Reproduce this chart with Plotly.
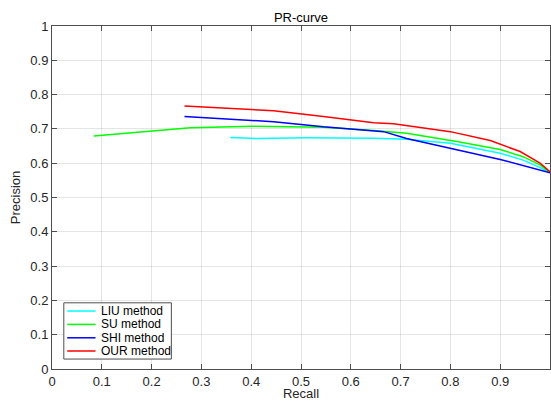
import plotly.graph_objects as go

_FONT = "Liberation Sans, Arial, sans-serif"
_AXIS_COLOR = "#4d4d4d"
_GRID_COLOR = "rgba(0,0,0,0.10)"

# ── Data ──────────────────────────────────────────────────────────────────────
liu_recall    = [0.358, 0.412, 0.51, 0.646, 0.712, 0.80, 0.90, 0.946, 0.98, 1.0]
liu_precision = [0.675, 0.672, 0.674, 0.673, 0.670, 0.658, 0.629, 0.609, 0.587, 0.573]

su_recall    = [0.084, 0.278, 0.405, 0.545, 0.646, 0.712, 0.813, 0.90, 0.946, 0.98, 1.0]
su_precision = [0.679, 0.703, 0.708, 0.705, 0.695, 0.687, 0.663, 0.640, 0.619, 0.595, 0.573]

shi_recall    = [0.266, 0.445, 0.545, 0.666, 0.712, 0.80, 0.90, 1.0]
shi_precision = [0.736, 0.721, 0.706, 0.692, 0.672, 0.643, 0.611, 0.572]

our_recall    = [0.266, 0.445, 0.545, 0.646, 0.686, 0.80, 0.88, 0.94, 0.98, 1.0]
our_precision = [0.767, 0.753, 0.736, 0.718, 0.715, 0.692, 0.666, 0.634, 0.600, 0.575]

series = [
    ("LIU method", liu_recall, liu_precision, "#00ffff"),
    ("SU method",  su_recall,  su_precision,  "#00ff00"),
    ("SHI method", shi_recall, shi_precision, "#0000ff"),
    ("OUR method", our_recall, our_precision, "#ff0000"),
]

ticks = [round(i * 0.1, 1) for i in range(11)]
tick_text = ["0", "0.1", "0.2", "0.3", "0.4", "0.5", "0.6", "0.7", "0.8", "0.9", "1"]

_W, _H = 551, 401

fig = go.Figure()
for name, x, y, color in series:
    fig.add_trace(go.Scatter(
        x=x, y=y, mode="lines", name=name,
        line=dict(color=color, width=1.5),
        showlegend=False,
    ))

# MATLAB-style compact legend box (lower left, inside the axes)
fig.add_shape(type="rect", xref="paper", yref="paper",
              x0=0.0237, x1=0.2397, y0=0.029, y1=0.193,
              line=dict(color=_AXIS_COLOR, width=1), fillcolor="white", layer="above")
row_y = [0.169, 0.130, 0.091, 0.0525]
for (name, _, _, color), yy in zip(series, row_y):
    fig.add_shape(type="line", xref="paper", yref="paper",
                  x0=0.0306, x1=0.0873, y0=yy, y1=yy,
                  line=dict(color=color, width=1.5), layer="above")
    fig.add_annotation(x=0.0953, y=yy, xref="paper", yref="paper",
                       text=name, showarrow=False, xanchor="left", yanchor="middle",
                       font=dict(size=12, color="#000000", family=_FONT))

axis_common = dict(
    range=[0, 1],
    tickvals=ticks,
    ticktext=tick_text,
    showgrid=True,
    gridcolor=_GRID_COLOR,
    gridwidth=1,
    zeroline=False,
    showline=True,
    linecolor=_AXIS_COLOR,
    linewidth=1,
    mirror="ticks",
    ticks="inside",
    ticklen=5,
    tickcolor=_AXIS_COLOR,
    tickfont=dict(size=13, color="#262626", family=_FONT),
    automargin=False,
)

fig.update_layout(
    width=_W,
    height=_H,
    paper_bgcolor="white",
    plot_bgcolor="white",
    font=dict(family=_FONT, color="#262626"),
    title=dict(text="PR-curve", x=0.5, xref="paper", xanchor="center",
               y=1 - 17 / _H, yanchor="middle", automargin=False,
               font=dict(size=13, color="#000000")),
    xaxis=dict(axis_common, title=dict(text="Recall", standoff=2,
                                       font=dict(size=13, color="#262626"))),
    yaxis=dict(axis_common, title=dict(text="Precision", standoff=6,
                                       font=dict(size=13, color="#262626"))),
    margin=dict(l=52, r=1, t=26, b=32),
    showlegend=False,
)

# drop the browser's default 8px body margin so the figure fills the window
fig.write_html(
    "out.html",
    config={"displayModeBar": False},
    post_script="document.body.style.margin='0';document.body.style.overflow='hidden';",
)
